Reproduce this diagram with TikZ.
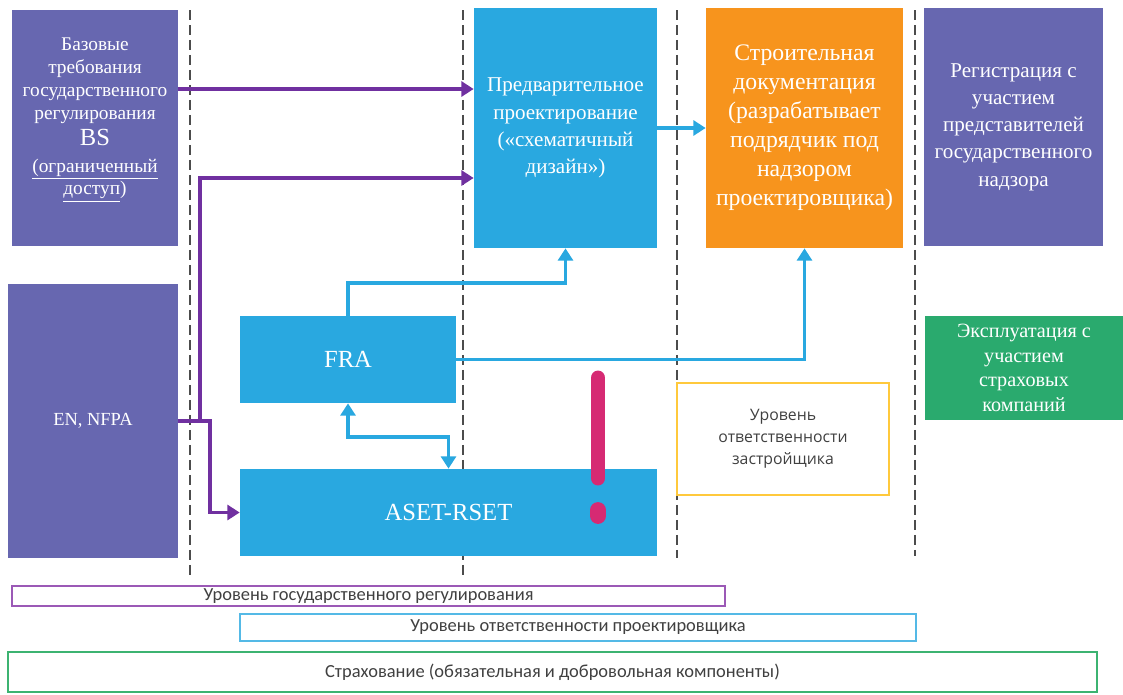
\documentclass[tikz,border=0pt]{standalone}
\usepackage{fontspec}
\setmainfont{Liberation Serif}
\newfontfamily\opensans{Open Sans}
\newfontfamily\carlito{Carlito}
\usetikzlibrary{arrows.meta,positioning}

\definecolor{boxpurple}{RGB}{103,103,176}
\definecolor{arrpurple}{RGB}{112,48,160}
\definecolor{boxblue}{RGB}{41,168,224}
\definecolor{boxorange}{RGB}{247,148,29}
\definecolor{boxgreen}{RGB}{42,170,110}
\definecolor{lineyellow}{RGB}{255,201,60}
\definecolor{linepurple}{RGB}{155,89,182}
\definecolor{linegreen}{RGB}{60,179,113}
\definecolor{exclam}{RGB}{214,42,115}
\definecolor{lvltext}{RGB}{64,64,64}

\begin{document}
\begin{tikzpicture}[x=0.02cm,y=-0.02cm]

\tikzset{
    box/.style={inner sep=2pt,align=center,text=white},
    level/.style={inner sep=0.5pt,align=center,text=lvltext,line width=1.2pt},
    sep/.style={dash pattern=on 0.2cm off 0.1cm,line width=1.1pt,black!70},
    parrow/.style={-{Triangle[length=7pt,width=8.5pt]},line width=2.2pt,arrpurple},
    barrow/.style={-{Triangle[length=7pt,width=8.5pt]},line width=2.2pt,boxblue},
    bbarrow/.style={{Triangle[length=7pt,width=8.5pt]}-{Triangle[length=7pt,width=8.5pt]},line width=2.2pt,boxblue}}

\useasboundingbox (0,0) rectangle (1123,694);

% separators
\draw[sep] (190,10) -- (190,578);
\draw[sep] (463,10) -- (463,578);
\draw[sep] (677,10) -- (677,558);
\draw[sep] (915,10) -- (915,556);

% boxes
\node[box, fill=boxpurple, minimum width=3.32cm, minimum height=4.72cm,
      font=\fontsize{11}{13}\selectfont] (bs) at (95,128)
      {Базовые\\требования\\государственного\\регулирования\\[2pt]
       {\fontsize{14}{16}\selectfont BS}\\[2pt]
       \underline{(ограниченный}\\\underline{доступ})\\ \mbox{}};
\node[box, fill=boxpurple, minimum width=3.4cm, minimum height=5.48cm,
      font=\fontsize{10.5}{13}\selectfont] (en) at (93,421) {EN, NFPA};

\node[box, fill=boxblue, minimum width=3.66cm, minimum height=4.8cm,
      font=\fontsize{12}{15.5}\selectfont] (pre) at (565.5,128)
      {Предварительное\\проектирование\\(«схематичный\\дизайн»)};
\node[box, fill=boxorange, minimum width=3.94cm, minimum height=4.8cm,
      font=\fontsize{13.5}{16.5}\selectfont] (doc) at (804.5,128)
      {Строительная\\документация\\(разрабатывает\\подрядчик под\\надзором\\проектировщика)};
\node[box, fill=boxpurple, minimum width=3.58cm, minimum height=4.76cm,
      font=\fontsize{12}{15.5}\selectfont] (reg) at (1013.5,127)
      {Регистрация с\\участием\\представителей\\государственного\\надзора};

\node[box, fill=boxblue, minimum width=4.32cm, minimum height=1.74cm,
      font=\fontsize{14}{16}\selectfont] (fra) at (348,359.5) {FRA};
\node[box, fill=boxblue, minimum width=8.34cm, minimum height=1.74cm,
      font=\fontsize{14}{16}\selectfont] (aset) at (448.5,512.5) {ASET-RSET};

\node[level, draw=lineyellow, minimum width=4.24cm, minimum height=2.24cm,
      font=\opensans\fontsize{9}{12.5}\selectfont] (dev) at (783,439)
      {Уровень\\ответственности\\застройщика};
\node[box, fill=boxgreen, minimum width=3.96cm, minimum height=2.08cm,
      font=\fontsize{11.5}{14}\selectfont] (ops) at (1024,368)
      {Эксплуатация с\\участием\\страховых\\компаний};

% levels
\node[level, draw=linepurple, minimum width=14.26cm, minimum height=0.4cm,
      font=\carlito\fontsize{10.5}{12}\selectfont] (lgov) at (368.5,596)
      {Уровень государственного регулирования};
\node[level, draw=boxblue!80, minimum width=13.52cm, minimum height=0.54cm,
      font=\carlito\fontsize{10.5}{12}\selectfont] (ldes) at (578,627.5)
      {Уровень ответственности проектировщика};
\node[level, draw=linegreen, minimum width=21.78cm, minimum height=0.8cm,
      font=\carlito\fontsize{10.5}{12}\selectfont] (lins) at (552.5,672)
      {Страхование (обязательная и добровольная компоненты)};

% exclamation mark
\draw[exclam, line width=8.5pt, line cap=round] (598,378) -- (598,478);
\draw[exclam, line width=9pt, line cap=round] (598,510) -- (598,516);

% connectors
\draw[parrow] ([yshift=0.78cm]bs.east) -- ([yshift=0.78cm]pre.west);
\draw[parrow] (en.east) -- ++(32,0) |- (aset.west);
\draw[parrow] ([xshift=0.44cm]en.east) |- ([yshift=-1cm]pre.west);

\draw[barrow] (pre.east) -- (doc.west);
\draw[barrow] (fra.north) -- ++(0,-33) -| (pre.south);
\draw[barrow] (fra.east) -| (doc.south);
\draw[bbarrow] (fra.south) -- ++(0,34) -| (aset.north);

\end{tikzpicture}
\end{document}
